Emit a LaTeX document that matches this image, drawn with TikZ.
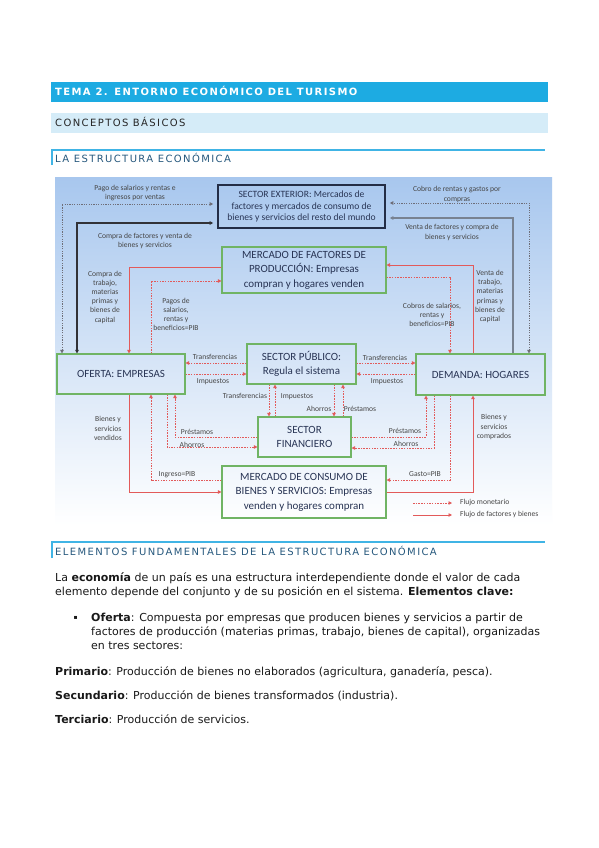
\documentclass[tikz,border=0pt]{standalone}
\usepackage{fontspec}
\setmainfont{DejaVu Sans}
\newfontfamily\carlito{Carlito}
\newfontfamily\espaciado[LetterSpace=14]{DejaVu Sans}
\usetikzlibrary{arrows.meta}

\definecolor{azultema}{RGB}{29,171,226}
\definecolor{azulclaro}{RGB}{213,236,248}
\definecolor{azulraya}{RGB}{64,180,229}
\definecolor{azultitulo}{RGB}{38,88,125}
\definecolor{fondo}{RGB}{168,199,238}
\definecolor{verdecaja}{RGB}{112,180,100}
\definecolor{bordeext}{RGB}{35,45,70}
\definecolor{textocaja}{RGB}{40,52,84}
\definecolor{rojo}{RGB}{226,90,90}
\definecolor{grisrotulo}{RGB}{70,70,70}
\definecolor{grispunto}{RGB}{110,110,120}
\definecolor{grisoscuro}{RGB}{50,50,55}
\definecolor{grisazul}{RGB}{120,130,145}

\tikzset{
	caja/.style={draw=verdecaja, line width=1.1pt, align=center, text=textocaja, inner sep=0pt, font=\carlito\fontsize{11}{14.5}\selectfont},
	rotulo/.style={text=grisrotulo, align=center, inner sep=0pt, font=\carlito\fontsize{7.6}{9.2}\selectfont},
	flujo/.style={rojo, line width=0.9pt},
	dinero/.style={rojo, line width=0.8pt, dash pattern=on 1.5pt off 1.2pt},
	hueco/.style={shorten >=4pt},
	texto/.style={anchor=base west, inner sep=0pt, text=black!90, font=\fontsize{11}{14}\selectfont},
	titulo/.style={anchor=base west, inner sep=0pt, font=\espaciado\fontsize{10}{12}\selectfont}
}

\begin{document}
\begin{tikzpicture}[x=1pt, y=-1pt, >={Triangle[length=3.5pt,width=3.5pt]}]
	\useasboundingbox (0,0) rectangle (599,848);
	\fill[white] (0,0) rectangle (599,848);
	% cabeceras
	\fill[azultema] (51,82) rectangle (548,102);
	\node[titulo, text=white, font=\espaciado\bfseries\fontsize{10}{12}\selectfont] (tema) at (55,95.6) {TEMA 2. ENTORNO ECONÓMICO DEL TURISMO};
	\fill[azulclaro] (51,113) rectangle (548,133);
	\node[titulo, text=black!85] (conceptos) at (55,126.4) {CONCEPTOS BÁSICOS};
	\draw[azulraya, line width=1.5pt] (52,165) -- (52,150) -- (545,150);
	\node[titulo, text=azultitulo] (estructura) at (55,162.6) {LA ESTRUCTURA ECONÓMICA};
	% fondo del esquema
	\shade[top color=fondo, bottom color=white] (55,177) rectangle (552,525);
	% cajas
	\node[caja, draw=bordeext, line width=1.6pt, font=\carlito\fontsize{9.6}{11.7}\selectfont, minimum width=167pt, minimum height=43pt] (exterior) at (301.5,206.5) {SECTOR EXTERIOR: Mercados de\\factores y mercados de consumo de\\bienes y servicios del resto del mundo};
	\node[caja, minimum width=164pt, minimum height=46pt] (factores) at (304,270) {MERCADO DE FACTORES DE\\PRODUCCIÓN: Empresas\\compran y hogares venden};
	\node[caja, minimum width=128pt, minimum height=40pt] (oferta) at (121,374) {OFERTA: EMPRESAS};
	\node[caja, minimum width=109pt, minimum height=40pt] (publico) at (301.5,364) {SECTOR PÚBLICO:\\Regula el sistema};
	\node[caja, minimum width=129pt, minimum height=41pt] (demanda) at (480.5,374.5) {DEMANDA: HOGARES};
	\node[caja, minimum width=93pt, minimum height=40pt] (financiero) at (304.5,437) {SECTOR\\FINANCIERO};
	\node[caja, minimum width=164pt, minimum height=52pt] (consumo) at (304,492) {MERCADO DE CONSUMO DE\\BIENES Y SERVICIOS: Empresas\\venden y hogares compran};
	% sector exterior
	\draw[grispunto, line width=0.8pt, dash pattern=on 1.2pt off 1.2pt, <->, hueco] (oferta.north -| 62,0) |- (exterior.west |- 0,204);
	\draw[grisoscuro, line width=1.3pt, <->, hueco] (oferta.north -| 77,0) |- (exterior.west |- 0,223);
	\draw[grispunto, line width=0.8pt, dash pattern=on 1.2pt off 1.2pt, <->, hueco] (demanda.north -| 529,0) |- (exterior.east |- 0,203);
	\draw[grisazul, line width=1.3pt, ->, hueco] (demanda.north -| 513,0) |- (exterior.east |- 0,218);
	\node[rotulo] (lpago) at (135,193) {Pago de salarios y rentas e\\ingresos por ventas};
	\node[rotulo] (lcompra) at (145,241) {Compra de factores y venta de\\bienes y servicios};
	\node[rotulo] (lcobro) at (457,194.5) {Cobro de rentas y gastos por\\compras};
	\node[rotulo] (lventa) at (452,232.5) {Venta de factores y compra de\\bienes y servicios};
	% mercado de factores
	\draw[flujo, ->] (factores.west |- 0,267) -| (oferta.north -| 129,0);
	\draw[dinero, ->] (oferta.north -| 151,0) |- (factores.west |- 0,281);
	\draw[flujo, ->] (demanda.north -| 473,0) |- (factores.east |- 0,265);
	\draw[dinero, ->] (factores.east |- 0,277) -| (demanda.north -| 450,0);
	\node[rotulo] (lcomprat) at (105,297) {Compra de\\trabajo,\\materias\\primas y\\bienes de\\capital};
	\node[rotulo] (lpagos) at (176,314.5) {Pagos de\\salarios,\\rentas y\\beneficios=PIB};
	\node[rotulo] (lcobros) at (432,315) {Cobros de salarios,\\rentas y\\beneficios=PIB};
	\node[rotulo] (lventat) at (490,296.5) {Venta de\\trabajo,\\materias\\primas y\\bienes de\\capital};
	% sector publico
	\draw[dinero, ->] (publico.west |- 0,363) -- (oferta.east |- 0,363);
	\draw[dinero, ->] (oferta.east |- 0,374) -- (publico.west |- 0,374);
	\draw[dinero, ->] (publico.east |- 0,363) -- (demanda.west |- 0,363);
	\draw[dinero, ->] (demanda.west |- 0,374) -- (publico.east |- 0,374);
	\draw[dinero, ->] (publico.south -| 269,0) -- (financiero.north -| 269,0);
	\draw[dinero, ->] (financiero.north -| 275,0) -- (publico.south -| 275,0);
	\draw[dinero, ->] (publico.south -| 334,0) -- (financiero.north -| 334,0);
	\draw[dinero, ->] (financiero.north -| 343,0) -- (publico.south -| 343,0);
	\node[rotulo] (ltransf1) at (215,357) {Transferencias};
	\node[rotulo] (limp1) at (213,382) {Impuestos};
	\node[rotulo] (ltransf2) at (385,358) {Transferencias};
	\node[rotulo] (limp2) at (387,382) {Impuestos};
	\node[rotulo] (ltransf3) at (245,396) {Transferencias};
	\node[rotulo] (limp3) at (297,397) {Impuestos};
	\node[rotulo] (lahorro1) at (319,409) {Ahorros};
	\node[rotulo] (lprest1) at (360,409) {Préstamos};
	% sector financiero
	\draw[dinero, ->] (financiero.west |- 0,437) -| (oferta.south -| 175,0);
	\draw[dinero, ->] (oferta.south -| 167,0) |- (financiero.west |- 0,447);
	\draw[dinero, ->] (financiero.east |- 0,437) -| (demanda.south -| 426,0);
	\draw[dinero, ->] (demanda.south -| 434,0) |- (financiero.east |- 0,448);
	\node[rotulo] (lprest2) at (197,432) {Préstamos};
	\node[rotulo] (lahorro2) at (192,445) {Ahorros};
	\node[rotulo] (lprest3) at (405,431) {Préstamos};
	\node[rotulo] (lahorro3) at (406,444) {Ahorros};
	% mercado de consumo
	\draw[flujo, ->] (oferta.south -| 129,0) |- (consumo.west |- 0,492);
	\draw[dinero, ->] (consumo.west |- 0,480) -| (oferta.south -| 151,0);
	\draw[dinero, ->] (demanda.south -| 450,0) |- (consumo.east |- 0,480);
	\draw[flujo, ->] (consumo.east |- 0,492) -| (demanda.south -| 473,0);
	\node[rotulo] (lvendidos) at (108,428.5) {Bienes y\\servicios\\vendidos};
	\node[rotulo] (lingreso) at (177,475) {Ingreso=PIB};
	\node[rotulo] (lgasto) at (425,474) {Gasto=PIB};
	\node[rotulo] (lcomprados) at (494,427) {Bienes y\\servicios\\comprados};
	% leyenda
	\coordinate (mon0) at (413,503);
	\coordinate (mon1) at (452,503);
	\coordinate (fac0) at (413,515);
	\coordinate (fac1) at (452,515);
	\draw[dinero, ->] (mon0) -- (mon1);
	\draw[flujo, ->] (fac0) -- (fac1);
	\node[rotulo, anchor=west] (lmon) at (460,503) {Flujo monetario};
	\node[rotulo, anchor=west] (lfac) at (460,515) {Flujo de factores y bienes};
	% elementos fundamentales
	\draw[azulraya, line width=1.5pt] (52,558) -- (52,542) -- (545,542);
	\node[titulo, text=azultitulo] (elementos) at (55,555.6) {ELEMENTOS FUNDAMENTALES DE LA ESTRUCTURA ECONÓMICA};
	\node[texto] (p1) at (55,581) {La \textbf{economía} de un país es una estructura interdependiente donde el valor de cada};
	\node[texto] (p2) at (55,595) {elemento depende del conjunto y de su posición en el sistema. \textbf{Elementos clave:}};
	\node[texto, font=\fontsize{6}{6}\selectfont] (vineta) at (73.5,619.5) {▪};
	\node[texto] (b1) at (91,621) {\textbf{Oferta}: Compuesta por empresas que producen bienes y servicios a partir de};
	\node[texto] (b2) at (91,635) {factores de producción (materias primas, trabajo, bienes de capital), organizadas};
	\node[texto] (b3) at (91,649) {en tres sectores:};
	\node[texto] (primario) at (55,675) {\textbf{Primario}: Producción de bienes no elaborados (agricultura, ganadería, pesca).};
	\node[texto] (secundario) at (55,699) {\textbf{Secundario}: Producción de bienes transformados (industria).};
	\node[texto] (terciario) at (55,723) {\textbf{Terciario}: Producción de servicios.};
\end{tikzpicture}
\end{document}
